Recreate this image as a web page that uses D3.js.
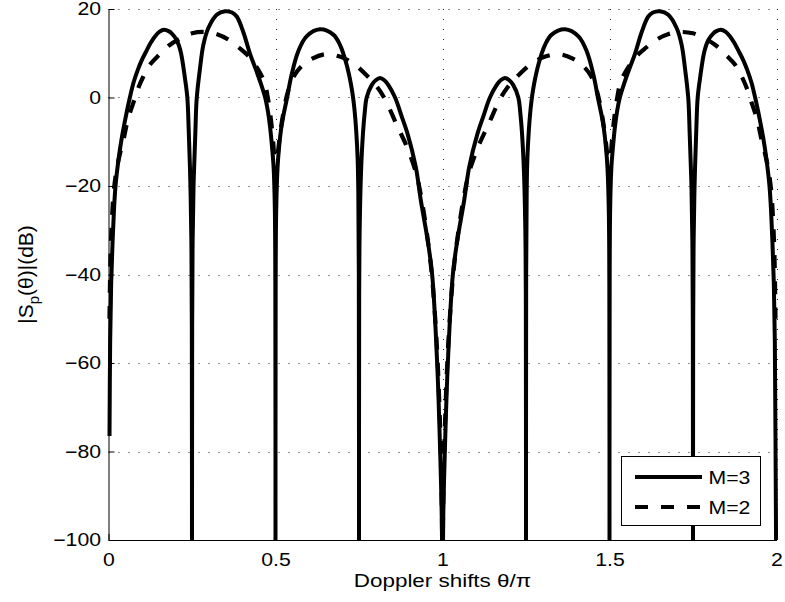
<!DOCTYPE html>
<html>
<head>
<meta charset="utf-8">
<script src="https://cdn.jsdelivr.net/npm/d3@7"></script>
<style>
  body { margin: 0; background: #fff; }
  text { font-family: "Liberation Sans", Arial, Helvetica, sans-serif; fill: #000; }
</style>
</head>
<body>
<svg id="chart" width="785" height="602"></svg>
<script>
// Axis ticks
const xTicks = [0, 0.5, 1, 1.5, 2];
const yTicks = [-100, -80, -60, -40, -20, 0, 20];
const seriesNames = ["M=3", "M=2"];
const xLabel = "Doppler shifts θ/π";

// |S_p(θ)| in dB for M=3, pairs of [θ/π, dB]
const m3Points = [
  [0.003, -76.5], [0.005, -55], [0.008, -42], [0.012, -33], [0.016, -26], [0.021, -20],
  [0.03, -14], [0.04, -9], [0.05, -5.0], [0.057, -2.4], [0.064, 0], [0.075, 3.4],
  [0.088, 6.3], [0.1, 8.5], [0.114, 10.6], [0.126, 12.3], [0.139, 13.8], [0.153, 14.9],
  [0.167, 15.3], [0.18, 15.0], [0.189, 14.5], [0.204, 13.0], [0.216, 10.4], [0.229, 4.3],
  [0.236, 0], [0.24, -7], [0.245, -19], [0.248, -32], [0.2495, -52], [0.25, -120],
  [0.2505, -52], [0.252, -32], [0.255, -19], [0.26, -8], [0.264, -0.3], [0.274, 6.6],
  [0.284, 11.9], [0.299, 15.7], [0.324, 18.7], [0.349, 19.5], [0.37, 19.2], [0.384, 18.3],
  [0.404, 14.7], [0.424, 9.8], [0.44, 6.6], [0.455, 3.4], [0.469, 0], [0.477, -3.0],
  [0.4835, -6.5], [0.49, -11.5], [0.4945, -16], [0.498, -25], [0.4995, -42], [0.5, -120],
  [0.5005, -42], [0.502, -26], [0.506, -16], [0.511, -11], [0.517, -7], [0.523, -4.3],
  [0.534, -0.3], [0.548, 5.1], [0.568, 10.4], [0.593, 13.8], [0.633, 15.4], [0.673, 14.2],
  [0.693, 11.9], [0.713, 7.4], [0.728, 2.1], [0.736, -2.4], [0.742, -8], [0.746, -14],
  [0.748, -22], [0.7495, -40], [0.75, -120],
  [0.7505, -45], [0.752, -30], [0.756, -17], [0.762, -8], [0.767, -3.5], [0.773, 0],
  [0.788, 2.8], [0.8, 3.9], [0.813, 4.4], [0.826, 3.9], [0.838, 2.8], [0.858, 0],
  [0.878, -4.3], [0.895, -8.1], [0.92, -15.7], [0.935, -23.2], [0.955, -32], [0.969, -40],
  [0.984, -60], [0.993, -80], [0.998, -96], [1.0, -120],
  [1.002, -96], [1.007, -80], [1.016, -60], [1.031, -40], [1.045, -32], [1.065, -23.2],
  [1.08, -15.7], [1.105, -8.1], [1.122, -4.3], [1.142, 0], [1.162, 2.8], [1.174, 3.9],
  [1.187, 4.4], [1.2, 3.9], [1.212, 2.8], [1.227, 0], [1.233, -3.5], [1.238, -8],
  [1.244, -17], [1.248, -30], [1.2495, -45], [1.25, -120],
  [1.2505, -40], [1.252, -22], [1.254, -14], [1.258, -8], [1.264, -2.4], [1.272, 2.1],
  [1.287, 7.4], [1.307, 11.9], [1.327, 14.2], [1.367, 15.4], [1.407, 13.8], [1.432, 10.4],
  [1.452, 5.1], [1.466, -0.3], [1.477, -4.3], [1.483, -7], [1.489, -11], [1.494, -16],
  [1.498, -26], [1.4995, -42], [1.5, -120],
  [1.5005, -42], [1.502, -25], [1.5055, -16], [1.51, -11.5], [1.5165, -6.5], [1.523, -3.0],
  [1.531, 0], [1.545, 3.4], [1.56, 6.6], [1.576, 9.8], [1.596, 14.7], [1.616, 18.3],
  [1.63, 19.2], [1.651, 19.5], [1.676, 18.7], [1.701, 15.7], [1.716, 11.9], [1.726, 6.6],
  [1.736, -0.3], [1.74, -8], [1.745, -19], [1.748, -32], [1.7495, -52], [1.75, -120],
  [1.7505, -52], [1.752, -32], [1.755, -19], [1.76, -7], [1.764, 0], [1.771, 4.3],
  [1.784, 10.4], [1.796, 13.0], [1.811, 14.5], [1.82, 15.0], [1.833, 15.3], [1.847, 14.9],
  [1.861, 13.8], [1.874, 12.3], [1.886, 10.6], [1.9, 8.5], [1.912, 6.3], [1.925, 3.4],
  [1.936, 0], [1.943, -2.4], [1.95, -5.0], [1.96, -9], [1.97, -14], [1.979, -20],
  [1.984, -26], [1.988, -33], [1.992, -42], [1.995, -55], [1.997, -76.5], [2.0, -120]
];

// |S_p(θ)| in dB for M=2, pairs of [θ/π, dB]
const m2Points = [
  [0.003, -50], [0.006, -36], [0.01, -28], [0.016, -21], [0.025, -16], [0.035, -12.5],
  [0.045, -9.5], [0.058, -5], [0.0766, -0.7], [0.09, 2.3], [0.104, 4.7], [0.125, 7.5],
  [0.151, 9.6], [0.18, 11.7], [0.216, 13.4], [0.25, 14.5], [0.289, 14.8], [0.325, 14.3],
  [0.361, 13.0], [0.39, 11.3], [0.421, 9.2], [0.445, 6.7], [0.466, 3.6], [0.478, -0.5],
  [0.487, -5.5], [0.494, -11], [0.498, -17], [0.5, -23], [0.503, -17], [0.508, -12],
  [0.517, -6.5], [0.526, -2.5], [0.536, 1.0], [0.555, 4.8], [0.58, 7.2], [0.61, 8.8],
  [0.651, 9.8], [0.69, 9.3], [0.729, 7.9], [0.777, 4.7], [0.805, 2.3], [0.828, -0.4],
  [0.863, -6.2], [0.893, -11.1], [0.921, -17.1], [0.935, -22], [0.952, -30], [0.968, -40],
  [0.983, -56], [0.993, -75], [0.998, -92], [1.0, -120],
  [1.002, -92], [1.007, -75], [1.017, -56], [1.032, -40], [1.048, -30], [1.065, -22],
  [1.079, -17.1], [1.107, -11.1], [1.137, -6.2], [1.172, -0.4], [1.195, 2.3], [1.223, 4.7],
  [1.271, 7.9], [1.31, 9.3], [1.349, 9.8], [1.39, 8.8], [1.42, 7.2], [1.445, 4.8],
  [1.464, 1.0], [1.474, -2.5], [1.483, -6.5], [1.492, -12], [1.497, -17], [1.5, -23],
  [1.502, -17], [1.506, -11], [1.513, -5.5], [1.522, -0.5], [1.534, 3.6], [1.555, 6.7],
  [1.579, 9.2], [1.61, 11.3], [1.639, 13.0], [1.675, 14.3], [1.711, 14.8], [1.75, 14.5],
  [1.784, 13.4], [1.82, 11.7], [1.849, 9.6], [1.875, 7.5], [1.896, 4.7], [1.91, 2.3],
  [1.9234, -0.7], [1.942, -5], [1.955, -9.5], [1.965, -12.5], [1.975, -16], [1.984, -21],
  [1.99, -28], [1.994, -36], [1.997, -50]
];

const svg = d3.select("#chart");
svg.append("rect").attr("width", 785).attr("height", 602).attr("fill", "#fff");

const x = d3.scaleLinear().domain([0, 2]).range([108.5, 776.5]);
const y = d3.scaleLinear().domain([-100, 20]).range([540, 9]);
const stretch = 1.18;

// dotted grid
const grid = svg.append("g").attr("stroke", "#222").attr("stroke-width", 1)
  .attr("stroke-dasharray", "1,9").attr("fill", "none");
grid.selectAll("line.v").data(xTicks.filter(d => d > 0)).join("line")
  .attr("class", "v")
  .attr("x1", d => Math.round(x(d)) + 0.5).attr("x2", d => Math.round(x(d)) + 0.5)
  .attr("y1", y(20)).attr("y2", y(-100));
grid.selectAll("line.h").data(yTicks.filter(d => d > -100)).join("line")
  .attr("class", "h")
  .attr("y1", d => Math.round(y(d)) + 0.5).attr("y2", d => Math.round(y(d)) + 0.5)
  .attr("x1", x(0)).attr("x2", x(2));

// curves, clipped to the plotting box
svg.append("clipPath").attr("id", "plotClip").append("rect")
  .attr("x", 100).attr("y", 0).attr("width", 685).attr("height", y(-100));

const line = d3.line().x(d => x(d[0])).y(d => y(d[1])).curve(d3.curveCatmullRom.alpha(0.5));
const curves = svg.append("g").attr("clip-path", "url(#plotClip)").attr("fill", "none")
  .attr("stroke", "#000").attr("stroke-linejoin", "round");
curves.append("path").datum(m2Points).attr("d", line)
  .attr("stroke-width", 4.2).attr("stroke-dasharray", "13,13");
curves.append("path").datum(m3Points).attr("d", line)
  .attr("stroke-width", 4);

// axes with inward ticks
const xAxis = svg.append("g").attr("transform", `translate(0,${y(-100)})`)
  .call(d3.axisBottom(x).tickValues(xTicks).tickFormat(d3.format(""))
    .tickSizeInner(-6).tickSizeOuter(0).tickPadding(13));
const yAxis = svg.append("g").attr("transform", `translate(${x(0)},0)`)
  .call(d3.axisLeft(y).tickValues(yTicks).tickFormat(d3.format(""))
    .tickSizeInner(-6).tickSizeOuter(0).tickPadding(8));

[xAxis, yAxis].forEach(g => {
  g.select(".domain").attr("stroke", "#000").attr("stroke-width", 1);
  g.selectAll(".tick line").attr("stroke", "#000");
  g.selectAll(".tick text").attr("font-size", 18).attr("fill", "#000")
    .style("font-family", '"Liberation Sans", Arial, sans-serif');
});
xAxis.selectAll(".tick text").attr("transform", `scale(${stretch},1)`);
yAxis.selectAll(".tick text").attr("x", 0)
  .attr("transform", `translate(-7.5,0) scale(${stretch},1)`);

// axis titles
svg.append("text")
  .attr("transform", `translate(${(x(0) + x(2)) / 2},587) scale(${stretch},1)`)
  .attr("text-anchor", "middle").attr("font-size", 19).text(xLabel);

const yl = svg.append("text")
  .attr("transform", `translate(33,${(y(-100) + y(20)) / 2}) rotate(-90)`)
  .attr("text-anchor", "middle").attr("font-size", 21);
yl.append("tspan").text("|S");
yl.append("tspan").attr("dy", 6).attr("font-size", 15).text("p");
yl.append("tspan").attr("dy", -6).text("(θ)|(dB)");

// legend
const lg = svg.append("g");
lg.append("rect").attr("x", 621.5).attr("y", 456.5).attr("width", 139).attr("height", 69)
  .attr("fill", "#fff").attr("stroke", "#000").attr("stroke-width", 1);
const legendRows = [
  { name: seriesNames[0], dash: null, w: 4, yy: 477 },
  { name: seriesNames[1], dash: "13,13", w: 4.2, yy: 507 }
];
legendRows.forEach(r => {
  lg.append("line").attr("x1", 635).attr("x2", 702).attr("y1", r.yy).attr("y2", r.yy)
    .attr("stroke", "#000").attr("stroke-width", r.w)
    .attr("stroke-dasharray", r.dash);
  lg.append("text")
    .attr("transform", `translate(708.5,${r.yy + 6.5}) scale(${stretch},1)`)
    .attr("font-size", 18).text(r.name);
});
</script>
</body>
</html>
